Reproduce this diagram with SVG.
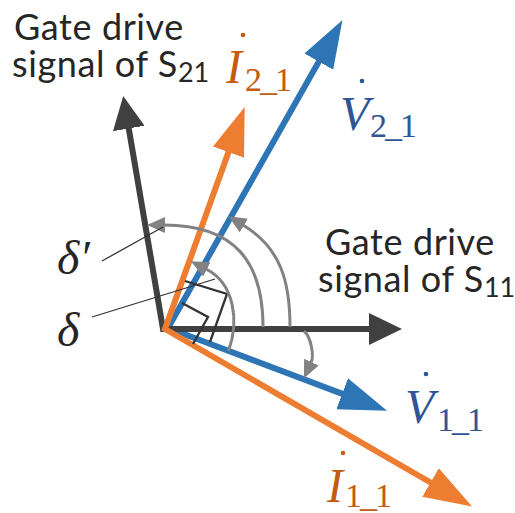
<svg xmlns="http://www.w3.org/2000/svg" width="515" height="513" viewBox="0 0 515 513">
<style>
.sans{font-family:Lato,"Liberation Sans",sans-serif;font-size:36px;letter-spacing:0.6px;fill:#262626}
.sub{font-size:27px;letter-spacing:0}
.mi{font-family:"Liberation Serif",serif;font-style:italic;font-size:48px}
.ms{font-family:"Liberation Serif",serif;font-size:34px;letter-spacing:-2px}
.md{font-family:"Liberation Serif",serif;font-style:italic;font-size:48px;fill:#262626}
.or{fill:#C55A11}
.bl{fill:#2F5597}
.vec{fill:none;stroke-width:6;stroke-linejoin:miter;stroke-miterlimit:10}
.arc{fill:none;stroke:#828282;stroke-width:3}
.ra{fill:none;stroke:#333;stroke-width:2.3}
.lead{fill:none;stroke:#333;stroke-width:1.3}
</style>
<defs>
<marker id="hd" markerUnits="userSpaceOnUse" viewBox="0 0 34 32" markerWidth="34" markerHeight="32" refX="1" refY="16" orient="auto-start-reverse"><path d="M0,0 L33,16 L0,32 z" fill="#404040"/></marker>
<marker id="ho" markerUnits="userSpaceOnUse" viewBox="0 0 49 34" markerWidth="49" markerHeight="34" refX="1" refY="16.5" orient="auto-start-reverse"><path d="M0,0 L48,16.5 L0,33 z" fill="#ED7D31"/></marker>
<marker id="hb" markerUnits="userSpaceOnUse" viewBox="0 0 49 34" markerWidth="49" markerHeight="34" refX="1" refY="16.5" orient="auto-start-reverse"><path d="M0,0 L48,16.5 L0,33 z" fill="#2E75B6"/></marker>
<marker id="hg" markerUnits="userSpaceOnUse" viewBox="0 0 19 16" markerWidth="19" markerHeight="16" refX="1" refY="8" orient="auto"><path d="M0,0 L18,8 L0,16 z" fill="#828282"/></marker>
</defs>
<g id="connectors">
<polyline id="vec-V" class="vec" stroke="#2E75B6" points="319.3,60.8 168,328 343.1,394.1" marker-start="url(#hb)" marker-end="url(#hb)"/>
<polyline id="vec-gate" class="vec" stroke="#404040" points="128.6,127.5 163,329 370,329" marker-start="url(#hd)" marker-end="url(#hd)"/>
<polyline id="vec-I" class="vec" stroke="#ED7D31" points="228.8,151.2 165,329 431.4,483" marker-start="url(#ho)" marker-end="url(#ho)"/>
<polyline class="ra" points="185,281 227,294 210,342"/>
<polyline class="ra" points="182,303 208,317 193,344"/>
<path class="arc" d="M263,327 C263,262 235,225 164,225" marker-end="url(#hg)"/>
<path class="arc" d="M290,327 C290,282 281,248 243,225" marker-end="url(#hg)"/>
<path class="arc" d="M228.5,351 C239.4,321 234.5,283.4 206,269" marker-end="url(#hg)"/>
<path class="arc" d="M304,331 C311,337 314.4,355.7 311,363" marker-end="url(#hg)"/>
<line class="lead" x1="102" y1="261" x2="163" y2="227"/>
<line class="lead" x1="92" y1="317" x2="215" y2="279"/>
</g>
<g id="gate-S21"><text class="sans"><tspan x="14" y="40">Gate drive</tspan><tspan x="12" y="77">signal of S</tspan><tspan class="sub" dy="5">21</tspan></text></g>
<g id="gate-S11"><text class="sans"><tspan x="325" y="255">Gate drive</tspan><tspan x="318" y="292">signal of S</tspan><tspan class="sub" dy="5">11</tspan></text></g>
<g id="I21"><circle class="or" cx="243" cy="35" r="2.3"/><text class="mi or" x="226" y="83">I</text><text class="ms or" x="245" y="91">2_1</text></g>
<g id="V21"><circle class="bl" cx="362" cy="81" r="2.3"/><text class="mi bl" x="340" y="130">V</text><text class="ms bl" x="370" y="137">2_1</text></g>
<g id="V11"><circle class="bl" cx="426" cy="374" r="2.3"/><text class="mi bl" x="405" y="423">V</text><text class="ms bl" x="437" y="431">1_1</text></g>
<g id="I11"><circle class="or" cx="343" cy="453" r="2.3"/><text class="mi or" x="327" y="502">I</text><text class="ms or" x="345" y="507">1_1</text></g>
<g id="delta-p"><text class="md" x="57" y="274">δ′</text></g>
<g id="delta"><text class="md" x="57" y="346">δ</text></g>
</svg>
